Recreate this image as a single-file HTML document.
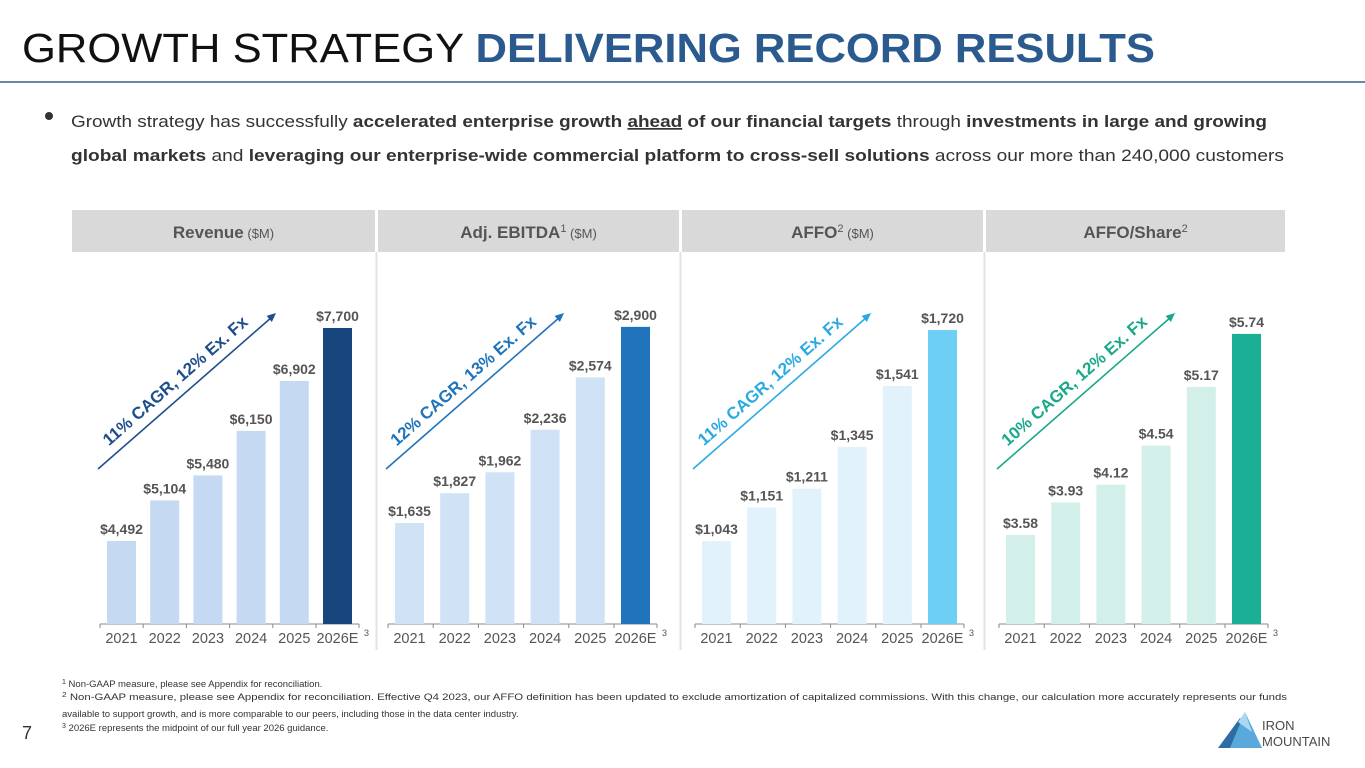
<!DOCTYPE html>
<html><head><meta charset="utf-8"><style>
html,body{margin:0;padding:0;background:#fff;}
svg{display:block;font-family:"Liberation Sans",Arial,sans-serif;}
</style></head><body>
<svg id="root" width="1365" height="768" viewBox="0 0 1365 768">
<text x="22" y="62" font-size="41" fill="#111" textLength="1133" lengthAdjust="spacingAndGlyphs">GROWTH STRATEGY <tspan font-weight="bold" fill="#2b5a8e">DELIVERING RECORD RESULTS</tspan></text>
<line x1="0" y1="82" x2="1365" y2="82" stroke="#3d5f85" stroke-width="1.5"/>
<circle cx="49" cy="116" r="4" fill="#333"/>
<text x="71" y="127" font-size="17" fill="#333" textLength="1196" lengthAdjust="spacingAndGlyphs">Growth strategy has successfully <tspan font-weight="bold">accelerated enterprise growth <tspan text-decoration="underline">ahead</tspan> of our financial targets</tspan> through <tspan font-weight="bold">investments in large and growing</tspan></text>
<text x="71" y="161" font-size="17" fill="#333" textLength="1213" lengthAdjust="spacingAndGlyphs"><tspan font-weight="bold">global markets</tspan> and <tspan font-weight="bold">leveraging our enterprise-wide commercial platform to cross-sell solutions</tspan> across our more than 240,000 customers</text>
<g id="charts"></g>
<g font-size="9.5" fill="#333">
<text x="62" y="687"><tspan font-size="7" dy="-3">1</tspan><tspan dy="3"> Non-GAAP measure, please see Appendix for reconciliation.</tspan></text>
<text x="62" y="700" textLength="1225" lengthAdjust="spacingAndGlyphs"><tspan font-size="7" dy="-3">2</tspan><tspan dy="3"> Non-GAAP measure, please see Appendix for reconciliation. Effective Q4 2023, our AFFO definition has been updated to exclude amortization of capitalized commissions. With this change, our calculation more accurately represents our funds</tspan></text>
<text x="62" y="717">available to support growth, and is more comparable to our peers, including those in the data center industry.</text>
<text x="62" y="731"><tspan font-size="7" dy="-3">3</tspan><tspan dy="3"> 2026E represents the midpoint of our full year 2026 guidance.</tspan></text>
</g>
<text x="22" y="739" font-size="18" fill="#333">7</text>
<g>
<polygon points="1218,748 1240,718 1262,748" fill="#2e6da4"/>
<polygon points="1230,748 1245,712 1262,748" fill="#5aa9dc"/>
<polygon points="1238,722 1245,712 1252,732" fill="#a9d8f2"/>
<text x="1262" y="730" font-size="13" fill="#4a4a4a">IRON</text>
<text x="1262" y="746" font-size="13" fill="#4a4a4a">MOUNTAIN</text>
</g>
</svg>
<script>
const years = ["2021","2022","2023","2024","2025","2026E"];
const revenueValues = [4492,5104,5480,6150,6902,7700];
const revenueLabels = ["$4,492","$5,104","$5,480","$6,150","$6,902","$7,700"];
const ebitdaValues = [1635,1827,1962,2236,2574,2900];
const ebitdaLabels = ["$1,635","$1,827","$1,962","$2,236","$2,574","$2,900"];
const affoValues = [1043,1151,1211,1345,1541,1720];
const affoLabels = ["$1,043","$1,151","$1,211","$1,345","$1,541","$1,720"];
const shareValues = [3.58,3.93,4.12,4.54,5.17,5.74];
const shareLabels = ["$3.58","$3.93","$4.12","$4.54","$5.17","$5.74"];
const panels = [
 {name:"revenue",x:72,w:303,start:107,step:43.2,title:"Revenue",sub:" ($M)",sup:"",vals:revenueValues,labs:revenueLabels,dmin:3242,k:0.0664,light:"#c5daf2",dark:"#16467d",acol:"#1f4e8c",cagr:"11% CAGR, 12% Ex. Fx"},
 {name:"adj-ebitda",x:378,w:301,start:395,step:45.2,title:"Adj. EBITDA",sub:" ($M)",sup:"1",vals:ebitdaValues,labs:ebitdaLabels,dmin:983,k:0.155,light:"#cfe2f6",dark:"#1f74bb",acol:"#1f74bb",cagr:"12% CAGR, 13% Ex. Fx"},
 {name:"affo",x:682,w:301,start:702,step:45.2,title:"AFFO",sub:" ($M)",sup:"2",vals:affoValues,labs:affoLabels,dmin:777,k:0.3117,light:"#e1f2fb",dark:"#6dcff6",acol:"#29abe2",cagr:"11% CAGR, 12% Ex. Fx"},
 {name:"affo-per-share",x:986,w:299,start:1006,step:45.2,title:"AFFO/Share",sub:"",sup:"2",vals:shareValues,labs:shareLabels,dmin:2.624,k:93.1,light:"#d3efe9",dark:"#1bb095",acol:"#1aa88a",cagr:"10% CAGR, 12% Ex. Fx"}
];
const NS="http://www.w3.org/2000/svg";
const root=document.getElementById("charts");
function mk(tag,attrs,parent,txt){const e=document.createElementNS(NS,tag);for(const a in attrs)e.setAttribute(a,attrs[a]);if(txt!=null)e.textContent=txt;parent.appendChild(e);return e;}
const base=624;
panels.forEach((p,pi)=>{
 const g=mk("g",{},root);
 
 
 const hdr=mk("rect",{x:p.x,y:210,width:p.w,height:42,fill:"#d9d9d9"},g);
 
 
 const ht=mk("text",{x:p.x+p.w/2,y:238,"text-anchor":"middle","font-size":"17","font-weight":"bold",fill:"#555"},g);
 
 
 mk("tspan",{},ht,p.title);
 if(p.sup) mk("tspan",{"font-size":"11","font-weight":"normal",dy:"-6"},ht,p.sup);
 if(p.sub) mk("tspan",{"font-size":"13","font-weight":"normal",dy:p.sup?"6":"0"},ht,p.sub);
 if(pi<3){const d=mk("line",{x1:p.x+p.w+1.5,y1:252,x2:p.x+p.w+1.5,y2:650,stroke:"#e3e3e3","stroke-width":"2"},g);
  }
 const step=p.step, bw=29, start=p.start;
 const ax=mk("line",{x1:start-7,y1:base,x2:start+5*step+bw+7,y2:base,stroke:"#888","stroke-width":"1"},g);
 
 
 p.vals.forEach((v,i)=>{
  const bx=start+i*step;
  const h=(v-p.dmin)*p.k;
  const r=mk("rect",{x:bx,y:base-h,width:bw,height:h,fill:i===5?p.dark:p.light},g);
  
  
  const t=mk("text",{x:bx+bw/2,y:base-h-7,"text-anchor":"middle","font-size":"14","font-weight":"bold",fill:"#555"},g,p.labs[i]);
  
  
  const yl=mk("text",{x:bx+bw/2,y:643,"text-anchor":"middle","font-size":"14.5",fill:"#555"},g,years[i]);
  
  
  mk("line",{x1:bx-7,y1:base,x2:bx-7,y2:base+4,stroke:"#888"},g);
 });
 mk("line",{x1:start+5*step+bw+7,y1:base,x2:start+5*step+bw+7,y2:base+4,stroke:"#888"},g);
 const sn=mk("text",{x:start+5*step+bw+12,y:636,"font-size":"9",fill:"#555"},g,"3");
 
 const ax1=start-9, ay1=469, ax2=start+169, ay2=313;
 const ar=mk("line",{x1:ax1,y1:ay1,x2:ax2-4,y2:ay2+4,stroke:p.acol,"stroke-width":"1.6"},g);
 
 
 const ang=Math.atan2(ay2-ay1,ax2-ax1);
 const hx=ax2,hy=ay2,L=9,W=4;
 const bx0=hx-L*Math.cos(ang),by0=hy-L*Math.sin(ang);
 mk("polygon",{points:`${hx},${hy} ${bx0+W*Math.sin(ang)},${by0-W*Math.cos(ang)} ${bx0-W*Math.sin(ang)},${by0+W*Math.cos(ang)}`,fill:p.acol},g);
 const deg=ang*180/Math.PI;
 const cx=(ax1+ax2)/2-8, cy=(ay1+ay2)/2-6;
 const ct=mk("text",{x:cx,y:cy,"text-anchor":"middle","font-size":"17","font-weight":"bold",fill:p.acol,transform:`rotate(${deg} ${cx} ${cy})`},g,p.cagr);
 
 
});
</script>
</body></html>
